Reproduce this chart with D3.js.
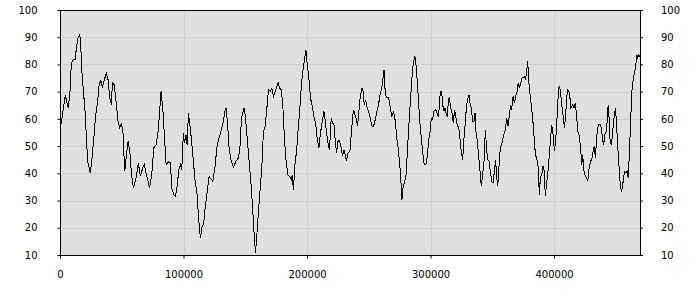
<!DOCTYPE html>
<html>
<head>
<meta charset="utf-8">
<script src="https://cdn.jsdelivr.net/npm/d3@7"></script>
<style>
  body { margin: 0; background: #fff; }
  .axis text { font-family: "DejaVu Sans", sans-serif; font-size: 10px; fill: #000; }
  .axis path { display: none; }
  .axis line { stroke: #000; }
</style>
</head>
<body>
<script>
// sample positions along x
var xs = [0, 1600, 3200, 4300, 5100, 6500, 7900, 9200, 10500, 12400, 13200, 14600, 16000, 16800, 17800, 19400,
  20500, 21600, 22700, 24600, 26200, 27600, 28900, 30200, 31600, 33000, 34300, 35700, 37500, 38900, 40300,
  41600, 42400, 43800, 45100, 47000, 48400, 49700, 51000, 52400, 53700, 55100, 56500, 57800, 59500,
  61600, 63400, 65100, 67000, 68300, 69700, 71100, 72400, 74300, 75900, 77800, 79200, 80500, 81800, 83200,
  84500, 85900, 87800, 89400, 90500, 92100, 93400, 94800, 96200, 97500, 98600, 99400, 99900, 100700, 102100,
  102900, 104000, 105300, 106700, 108000, 109400, 111000, 112400, 113700, 115100, 116400, 117500, 118500,
  119400, 120700, 122100, 123700, 125400, 127000, 128300, 129600, 131000, 132300, 133500, 134500, 135600,
  136900, 138300, 140400, 142400, 144500, 145900, 146900, 148000, 149100, 150100, 151800, 153100, 154500,
  155800, 157200, 158300, 159400, 160700, 162100, 163400, 164700, 166100, 167500, 168800, 170200, 171500,
  172800, 174200, 175600, 176600, 177700, 179300, 180500, 181800, 183100, 184500, 185800, 187200, 188000,
  189000, 190200, 191500, 192900, 194200, 195500, 196900, 198000, 199100, 200100, 201500, 202800, 204200,
  205600, 206900, 208200, 209600, 210900, 212300, 213700, 214700, 215800, 217200, 218200, 219600, 220600,
  221800, 222800, 223900, 225000, 226300, 227700, 228700, 229900, 230900, 232000, 233100, 234700, 235800,
  237000, 237700, 238800, 239800, 240900, 242000, 243100, 244500, 245500, 246300, 247400, 248500, 249800,
  251200, 252600, 253900, 255200, 256600, 257900, 259300, 260300, 261500, 262300, 263100, 264200, 266000,
  267400, 268800, 270100, 271500, 272800, 274100, 275500, 276900, 277700, 279000, 280100, 281400, 282800,
  284200, 285200, 286300, 287400, 288500, 289800, 291100, 292500, 293900, 294900, 296300, 297400, 298400,
  299600, 300600, 301700, 302800, 303900, 304900, 306100, 307100, 307900, 309000, 309800, 310900, 311700,
  312500, 313600, 314400, 315200, 316300, 317400, 318400, 319500, 320600, 321700, 322700, 323900, 324900,
  326000, 327100, 328200, 329200, 330400, 331200, 332000, 333000, 334100, 335200, 336000, 336800, 337900,
  338900, 340100, 341100, 342200, 343300, 344400, 345200, 346200, 347400, 348400, 349500, 350600, 351700,
  352700, 353400, 354400, 355500, 356500, 357600, 358700, 359800, 360800, 361600, 362800, 363800, 364900,
  365700, 366800, 367900, 368900, 370100, 370900, 371900, 373000, 374100, 375200, 376200, 377000, 377800,
  378700, 379500, 380600, 381700, 382700, 383800, 384900, 385900, 387100, 388100, 388900, 390000, 391100,
  391900, 393000, 393800, 394900, 396000, 397000, 398100, 399200, 400300, 401300, 402200, 403000, 403800,
  404600, 405700, 406800, 407600, 408400, 409200, 410000, 410800, 411900, 412700, 413500, 415100, 416200,
  417300, 418400, 419500, 420500, 421600, 422400, 423200, 424400, 425400, 426500, 427300, 428400, 429500,
  430500, 431600, 432500, 433500, 434300, 435100, 436200, 437300, 438400, 439400, 440200, 441000, 442200,
  443000, 443800, 444600, 445400, 446500, 447500, 448700, 449700, 450500, 451600, 452700, 453800, 454800,
  456000, 457000, 458100, 459200, 460000, 461100, 462100, 463200, 464300, 465400, 466200, 467000, 467800,
  468600, 469400, 470000];

// series values
var ys = [56, 60.3, 65.2, 68.6, 67, 64.2, 68.3, 80.5, 81.7, 81.7, 86, 89.7, 91.2, 86.7, 76.9, 67.7,
  61.5, 50.5, 43.8, 40.1, 46.8, 54.2, 61.5, 65.2, 72, 74.4, 71.3, 74, 76.9, 74.4, 67.7,
  65.2, 73.2, 72.6, 67.7, 59.1, 56.6, 58.5, 54.8, 40.7, 46.3, 51.8, 48.1, 40, 34.6,
  38.3, 43.8, 38.9, 42, 43.2, 40.1, 37.7, 34.6, 39.5, 49.3, 50.5, 54.2, 61.5, 70.1, 64,
  54.2, 43.2, 44.2, 43.8, 34.6, 32.1, 31.5, 35.2, 41.3, 43.2, 41.3, 49.9, 54.8, 51.1, 54.2,
  50.5, 62.2, 57.3, 51.1, 44.4, 37.1, 32.1, 22.4, 16.2, 20.5, 21.7, 27.3, 30.9,
  34, 38.9, 38, 37.1, 42, 49.3, 52.4, 54.2, 56.6, 59.1, 62.8, 64, 58.5,
  49.3, 45, 42.2, 44.4, 45.6, 50.5, 60.3, 62.2, 64, 60.9, 51.8, 44.4, 37.1,
  28.5, 17.5, 10.7, 17.5, 26.1, 34.6, 42, 55.4, 57.3, 64, 70.7, 70.1, 71.3,
  68.3, 70.1, 72, 73.2, 71.3, 70.7, 64, 51.8, 44.4, 39.5, 38.9, 37.7, 39.5,
  34, 43.2, 48.1, 56.6, 64, 72.6, 78.7, 81.7, 85.4, 80.5, 75, 67.7, 64.6,
  60.9, 58.5, 53, 49.3, 54.8, 59.1, 62.8, 59.7, 54.8, 50.5, 48.7, 60.3, 58.5,
  57.9, 52.4, 47.5, 51.8, 52, 49.3, 46.3, 48.7, 46.8, 44.4, 47.5, 48.1, 54.2,
  61, 63.4, 61.5, 60.3, 57.3, 62.8, 68.3, 71.3, 70.1, 65.2, 67, 64.6, 62.8,
  60.3, 57.3, 57.3, 59.7, 62.8, 65.2, 69.5, 70.7, 75, 78.1, 71.3, 67.7, 67.9,
  64, 60.9, 62.8, 59.1, 52.4, 48.1, 40.7, 30.3, 34.6, 37.1, 38.9, 49.3, 60.3,
  70.1, 76.9, 81.2, 83, 78.7, 70.1, 60.3, 53, 46.8, 43.2, 43.2, 46.3, 51.8,
  55.4, 60.3, 59.7, 62.8, 63.4, 62.8, 60.9, 64, 70.1, 70.1, 65.2, 62.8, 64,
  62.2, 60.9, 66.5, 67.9, 64, 62.2, 58.5, 63.4, 60.3, 57.3, 57.3, 52.4, 48.1,
  45, 53, 59.1, 65.2, 67.7, 68.9, 65.8, 64, 59.1, 59.1, 62.2, 55.4, 51.8,
  46.8, 40.7, 35.2, 39.5, 44.4, 56, 50.5, 45, 44.4, 40.7, 37.1, 36.4, 40.7,
  45, 39.5, 35.2, 43.2, 49.3, 50.5, 53, 54.8, 56.6, 60.3, 57.3, 61.5, 65.2,
  63.4, 68.3, 65.8, 68.3, 70.1, 73.2, 71.3, 73.2, 75, 75.3, 75.6, 74.4, 77.5,
  81.2, 73.8, 68.9, 64.6, 60.3, 53.6, 46.8, 45.6, 42.6, 32.1, 38.3, 39.5, 42.6,
  41.3, 31.5, 35.8, 39.5, 45.6, 51.8, 57.9, 54.2, 48.1, 51.8, 58.5, 65.8, 71.3,
  72, 67.7, 62.8, 60.3, 56.6, 60.3, 65.8, 70.7, 70.1, 68.9, 64, 65.2, 64,
  65.8, 60.3, 54.8, 53.6, 48.7, 43.2, 46.8, 40.1, 38.9, 38.3, 37.1, 42, 44.4,
  45, 48.1, 49.9, 45.6, 51.8, 56, 57.9, 58.1, 56.6, 51.8, 50.5, 54.2, 55.4,
  59.1, 65.2, 60.3, 51.8, 50.5, 55.4, 60.9, 64, 59.1, 49.3, 42, 34.6, 33.4,
  37.1, 40.7, 40.1, 40.7, 38.3, 48.1, 60.3, 71.3, 75, 77.5, 79.9, 83.6, 82.4,
  83.6, 83, 84.2];

// tick values
var xTicks = [0, 100000, 200000, 300000, 400000];
var yTicks = [10, 20, 30, 40, 50, 60, 70, 80, 90, 100];

var width = 700;
var height = 300;
var plotLeft = 60, plotRight = 640.5, plotTop = 10, plotBottom = 255;

var svg = d3.select("body")
  .append("svg")
  .attr("width", width)
  .attr("height", height);

var xScale = d3.scaleLinear()
  .domain([0, 470000])
  .range([plotLeft, plotRight]);

var yScale = d3.scaleLinear()
  .domain([10, 100])
  .range([plotBottom, plotTop]);

// plot background
svg.append("rect")
  .attr("x", plotLeft)
  .attr("y", plotTop)
  .attr("width", plotRight - plotLeft)
  .attr("height", plotBottom - plotTop)
  .style("fill", "#e0e0e0");

// grid lines
svg.append("g")
  .selectAll("line")
  .data(yTicks.slice(1, -1))
  .enter()
  .append("line")
  .attr("x1", plotLeft)
  .attr("x2", plotRight)
  .attr("y1", function(d) { return Math.round(yScale(d)) + 0.5; })
  .attr("y2", function(d) { return Math.round(yScale(d)) + 0.5; })
  .style("stroke", "#d0d0d0");

svg.append("g")
  .selectAll("line")
  .data(xTicks.slice(1))
  .enter()
  .append("line")
  .attr("x1", function(d) { return Math.round(xScale(d)) + 0.5; })
  .attr("x2", function(d) { return Math.round(xScale(d)) + 0.5; })
  .attr("y1", plotTop)
  .attr("y2", plotBottom)
  .style("stroke", "#d0d0d0");

// the line
var data = xs.map(function(x, i) { return { x: x, y: ys[i] }; });

var line = d3.line()
  .x(function(d) { return xScale(d.x); })
  .y(function(d) { return yScale(d.y); });

svg.append("path")
  .datum(data)
  .attr("d", line)
  .style("fill", "none")
  .style("stroke", "#000")
  .style("stroke-width", 1)
  .style("shape-rendering", "crispEdges");

// frame
svg.append("rect")
  .attr("x", plotLeft + 0.5)
  .attr("y", plotTop + 0.5)
  .attr("width", plotRight - plotLeft - 1)
  .attr("height", plotBottom - plotTop)
  .style("fill", "none")
  .style("stroke", "#000")
  .style("shape-rendering", "crispEdges");

// axes
var xAxis = d3.axisBottom(xScale).tickValues(xTicks).tickSize(3).tickPadding(12).tickFormat(d3.format("d"));
var yAxisL = d3.axisLeft(yScale).tickValues(yTicks).tickSize(3).tickPadding(20);
var yAxisR = d3.axisRight(yScale).tickValues(yTicks).tickSize(3).tickPadding(18);

svg.append("g")
  .attr("class", "axis")
  .attr("transform", "translate(0," + (plotBottom + 0.5) + ")")
  .call(xAxis);

svg.append("g")
  .attr("class", "axis")
  .attr("transform", "translate(" + (plotLeft + 0.5) + ",0)")
  .call(yAxisL);

svg.append("g")
  .attr("class", "axis")
  .attr("transform", "translate(" + (plotRight - 0.5) + ",0)")
  .call(yAxisR);
</script>
</body>
</html>
